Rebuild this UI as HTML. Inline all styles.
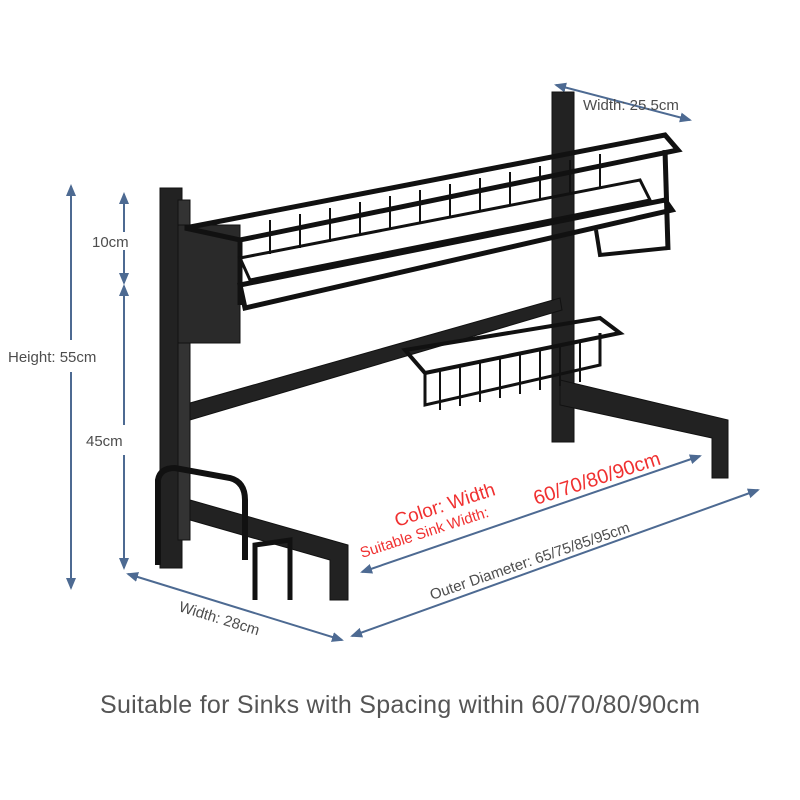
<!DOCTYPE html>
<html><head><meta charset="utf-8"><style>
body{margin:0;background:#fff;}
svg{display:block}
text{font-family:"Liberation Sans",sans-serif;}
</style></head><body>
<svg width="800" height="800" viewBox="0 0 800 800" xmlns="http://www.w3.org/2000/svg">
<defs>
<marker id="a" markerWidth="12" markerHeight="10" refX="10" refY="5" orient="auto-start-reverse" markerUnits="userSpaceOnUse"><path d="M0,0 L12,5 L0,10 z" fill="#4d6a92"/></marker>
</defs>
<g stroke="#4d6a92" stroke-width="2" fill="none">
<line x1="71" y1="340" x2="71" y2="186" marker-end="url(#a)"/><line x1="71" y1="372" x2="71" y2="588" marker-end="url(#a)"/>
<line x1="124" y1="232" x2="124" y2="194" marker-end="url(#a)"/><line x1="124" y1="250" x2="124" y2="283" marker-end="url(#a)"/>
<line x1="124" y1="425" x2="124" y2="286" marker-end="url(#a)"/><line x1="124" y1="455" x2="124" y2="568" marker-end="url(#a)"/>
<line x1="128" y1="574" x2="342" y2="640" marker-start="url(#a)" marker-end="url(#a)"/>
<line x1="352" y1="636" x2="758" y2="490" marker-start="url(#a)" marker-end="url(#a)"/>
<line x1="362" y1="572" x2="700" y2="456" marker-start="url(#a)" marker-end="url(#a)"/>
<line x1="556" y1="85" x2="690" y2="120" marker-start="url(#a)" marker-end="url(#a)"/>
</g>
<g fill="#222" stroke="#111">
<rect x="160" y="188" width="22" height="380"/>
<rect x="178" y="200" width="12" height="340" fill="#333"/>
<rect x="552" y="92" width="22" height="350"/>
<rect x="178" y="225" width="62" height="118" fill="#2a2a2a"/>
<polygon points="190,403 560,298 562,310 190,420"/>
<polygon points="560,380 728,420 728,478 712,478 712,438 560,405"/>
<polygon points="190,500 348,545 348,600 330,600 330,560 190,520"/>
</g>
<g fill="none" stroke="#111" stroke-width="5">
<polygon points="185,228 665,135 678,150 240,240"/>
<polygon points="240,285 665,200 672,210 245,308"/>
<line x1="240" y1="240" x2="240" y2="305"/>
<line x1="665" y1="150" x2="668" y2="250"/>
<polygon points="240,258 640,180 650,200 250,280" stroke-width="3"/>
<polygon points="405,350 600,318 620,333 425,373" stroke-width="4"/>
<path d="M425,373 L425,405 L600,365 L600,333" stroke-width="3"/>
<path d="M596,230 L600,255 L668,248" stroke-width="4"/>
<path d="M158,565 L158,480 Q160,468 175,468 L230,478 Q245,482 245,500 L245,560" stroke-width="6"/>
<path d="M255,600 L255,545 L290,540 L290,600" stroke-width="5"/>
</g>
<g fill="none" stroke="#111" stroke-width="2">
<path d="M270,254 L270,220 M300,248 L300,214 M330,242 L330,208 M360,236 L360,202 M390,230 L390,196 M420,224 L420,190 M450,218 L450,184 M480,212 L480,178 M510,206 L510,172 M540,200 L540,166 M570,194 L570,160 M600,188 L600,154"/>
<path d="M440,370 L440,410 M460,366 L460,406 M480,362 L480,402 M500,358 L500,398 M520,354 L520,394 M540,350 L540,390 M560,346 L560,386 M580,342 L580,382"/>
</g>
<g fill="#4d4d4d" font-size="15">
<text x="583" y="110">Width: 25.5cm</text>
<text x="92" y="247">10cm</text>
<text x="8" y="362">Height: 55cm</text>
<text x="86" y="446">45cm</text>
<text x="178" y="611" transform="rotate(17 178 611)">Width: 28cm</text>
<text x="432" y="600" transform="rotate(-19 432 600)">Outer Diameter: 65/75/85/95cm</text>
</g>
<g fill="#f03030">
<text x="397" y="527" font-size="19" transform="rotate(-18 397 527)">Color: Width</text>
<text x="362" y="558" font-size="15" transform="rotate(-18 362 558)">Suitable Sink Width:</text>
<text x="536" y="505" font-size="20" transform="rotate(-18 536 505)">60/70/80/90cm</text>
</g>
<text x="400" y="713" font-size="25" fill="#555" text-anchor="middle" textLength="600">Suitable for Sinks with Spacing within 60/70/80/90cm</text>
</svg>
</body></html>
